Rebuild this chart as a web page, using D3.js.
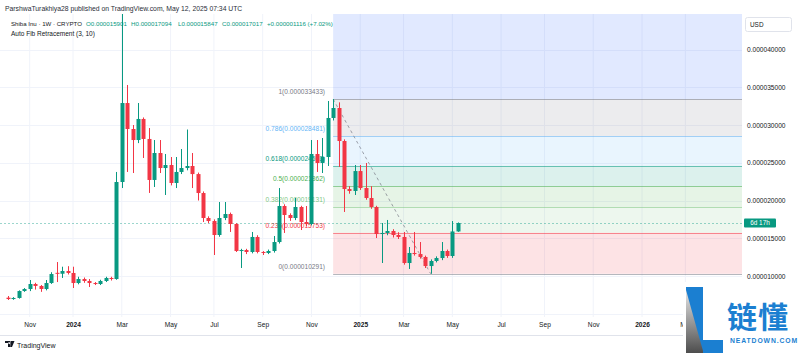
<!DOCTYPE html>
<html><head><meta charset="utf-8">
<script src="https://cdn.jsdelivr.net/npm/d3@7"></script>
<style>html,body{margin:0;padding:0;background:#fff;} svg{display:block;font-family:"Liberation Sans",Arial,sans-serif;}</style>
</head><body><svg id="c" width="800" height="356"></svg>
<script>
// ---- data (prices in units of 1e-6 USD) ----
const weeks = ["2023-10-09","2023-10-16","2023-10-23","2023-10-30","2023-11-06","2023-11-13","2023-11-20","2023-11-27","2023-12-04","2023-12-11","2023-12-18","2023-12-25",
"2024-01-01","2024-01-08","2024-01-15","2024-01-22","2024-01-29","2024-02-05","2024-02-12","2024-02-19","2024-02-26","2024-03-04","2024-03-11","2024-03-18","2024-03-25",
"2024-04-01","2024-04-08","2024-04-15","2024-04-22","2024-04-29","2024-05-06","2024-05-13","2024-05-20","2024-05-27","2024-06-03","2024-06-10","2024-06-17","2024-06-24",
"2024-07-01","2024-07-08","2024-07-15","2024-07-22","2024-07-29","2024-08-05","2024-08-12","2024-08-19","2024-08-26","2024-09-02","2024-09-09","2024-09-16","2024-09-23","2024-09-30",
"2024-10-07","2024-10-14","2024-10-21","2024-10-28","2024-11-04","2024-11-11","2024-11-18","2024-11-25","2024-12-02","2024-12-09","2024-12-16","2024-12-23","2024-12-30",
"2025-01-06","2025-01-13","2025-01-20","2025-01-27","2025-02-03","2025-02-10","2025-02-17","2025-02-24","2025-03-03","2025-03-10","2025-03-17","2025-03-24","2025-03-31",
"2025-04-07","2025-04-14","2025-04-21","2025-04-28","2025-05-05","2025-05-12"];
const openP  = [7.13,6.95,7.09,8.01,8.28,8.94,8.68,8.28,9.07,10.42,10.3,10.66,
10.4,9.07,9.6,9.34,9.07,8.94,9.34,9.74,9.6,22.45,32.91,29.47,28.01,
30.8,28.15,22.72,26.29,24.3,24.7,22.32,23.78,24.3,24.57,23.5,20.99,17.68,
17.28,15.43,17.68,18.21,16.89,13.31,13.44,13.18,15.17,13.18,13.05,13.31,14.5,19.27,
18.08,17.68,19.14,17.15,16.89,26.16,24.97,25.76,30.93,32.25,27.88,21.52,21.26,
23.9,21.65,20.33,19.14,15.56,15.7,15.96,15.43,15.17,11.72,13.05,12.91,12.52,
11.32,11.99,12.38,13.31,12.65,15.901];
const highP  = [7.35,7.2,8.1,8.4,9.47,9.1,8.8,9.47,10.5,11.85,11.23,11.3,
11.23,9.9,9.8,9.6,9.2,9.5,9.9,9.9,23.78,45.67,35.3,30.0,32.91,
31.0,29.6,28.01,28.01,26.16,25.76,25.76,26.82,29.4,26.29,23.7,21.2,17.9,
17.5,19.8,19.8,18.4,17.0,13.6,13.6,15.83,15.4,13.3,13.5,15.3,21.65,19.5,
18.3,20.33,19.3,19.27,28.01,28.01,28.28,33.18,33.433,33.0,28.1,21.9,24.7,
24.7,24.97,21.9,19.3,17.02,17.42,16.2,15.8,15.83,13.84,15.83,14.5,12.7,
12.2,12.6,14.5,13.5,17.28,17.094];
const lowP   = [6.82,6.85,7.0,7.9,8.0,8.2,7.9,8.1,8.95,9.2,9.74,10.2,
8.41,8.9,9.1,8.54,8.8,8.8,9.2,9.4,9.5,21.65,23.78,23.64,27.6,
25.63,21.0,21.79,23.64,20.73,22.0,21.65,23.5,24.0,21.65,20.0,17.15,17.0,
12.78,15.2,17.4,15.83,13.18,11.06,12.9,13.0,13.0,12.78,12.9,13.1,14.3,15.7,
17.3,17.4,16.09,16.6,16.7,23.78,23.64,24.57,30.6,24.44,18.48,20.9,20.73,
21.4,20.1,18.9,15.03,11.72,15.4,15.1,14.9,11.5,10.93,12.7,12.3,11.06,
10.291,11.8,12.1,12.4,12.4,15.847];
const closeP = [6.95,7.09,8.01,8.28,8.94,8.68,8.28,9.07,10.26,10.3,10.66,10.4,
9.07,9.6,9.34,9.07,8.94,9.34,9.74,9.6,22.45,32.91,29.47,28.01,30.8,
28.15,22.72,26.29,24.3,24.7,22.32,23.78,24.3,24.57,23.5,20.99,17.68,17.28,
15.43,17.68,18.21,16.89,13.31,13.44,13.18,15.17,13.18,13.05,13.31,14.5,19.27,18.08,
17.68,19.14,17.15,16.89,26.16,24.97,25.76,30.93,32.25,27.88,21.52,21.26,23.9,
21.65,20.33,19.14,15.56,15.7,15.96,15.43,15.17,11.72,13.05,12.91,12.52,11.32,
11.99,12.38,13.31,12.65,15.9,17.017];
const priceTicks = [5,10,15,20,25,30,35,40,45];
const priceLabelTicks = [10,15,20,25,30,35,40];
const monthTicks = ["2023-11-06","2024-01-01","2024-03-04","2024-05-06","2024-07-01","2024-09-02","2024-11-04","2025-01-06","2025-03-03","2025-05-05","2025-07-07","2025-09-01","2025-11-03","2026-01-05","2026-03-02"];
const monthLabels = ["Nov","2024","Mar","May","Jul","Sep","Nov","2025","Mar","May","Jul","Sep","Nov","2026","Mar"];
const fibLevels = [0,0.236,0.382,0.5,0.618,0.786,1,1.618];
const fibColors = ["#787b86","#f23645","#81c784","#4caf50","#089981","#64b5f6","#787b86","#2962ff"];
const fibHighIdx = 60, fibLowIdx = 78;
const headerOHLC = ["O0.000015901","H0.000017094","L0.000015847","C0.000017017","+0.000001116 (+7.02%)"];

// ---- layout ----
const UP="#089981", DOWN="#f23645";
const paneR=742, paneT=14, paneB=317;
const svg=d3.select("#c");
const x=d3.scaleTime().domain([new Date("2023-10-09"),new Date("2026-01-05")]).range([8,642]);
const y=d3.scaleLinear().domain([10,40]).range([276,49.5]);
const fmt=v=>(v*1e-6).toFixed(9);

const defs=svg.append("defs");
defs.append("clipPath").attr("id","pane").append("rect")
  .attr("x",0).attr("y",paneT).attr("width",paneR).attr("height",paneB-paneT);
const linGrad=defs.append("linearGradient").attr("id","lg").attr("x1",0).attr("y1",0).attr("x2",0).attr("y2",1);
linGrad.append("stop").attr("offset","0%").attr("stop-color","#e6e6e6");
linGrad.append("stop").attr("offset","100%").attr("stop-color","#4d4d4d");

const pane=svg.append("g").attr("clip-path","url(#pane)");
// grid
pane.selectAll(".vg").data(monthTicks).join("line")
  .attr("x1",d=>x(new Date(d))).attr("x2",d=>x(new Date(d))).attr("y1",paneT).attr("y2",paneB)
  .attr("stroke","#f0f3fa").attr("stroke-width",1);
pane.selectAll(".hg").data(priceTicks).join("line")
  .attr("x1",0).attr("x2",paneR).attr("y1",d=>Math.round(y(d))+0.5).attr("y2",d=>Math.round(y(d))+0.5)
  .attr("stroke","#f0f3fa").attr("stroke-width",1);

// fib
const fHi=highP[fibHighIdx], fLo=lowP[fibLowIdx];
const fibX0=x(new Date(weeks[fibHighIdx]));
const fibVal=l=>fLo+l*(fHi-fLo);
const fg=pane.append("g");
for(let i=1;i<fibLevels.length;i++){
  const y1=y(fibVal(fibLevels[i])), y0=y(fibVal(fibLevels[i-1]));
  fg.append("rect").attr("x",fibX0).attr("width",paneR-fibX0)
    .attr("y",y1).attr("height",y0-y1).attr("fill",fibColors[i]).attr("fill-opacity",0.14);
}
fibLevels.forEach((l,i)=>{
  const yy=Math.round(y(fibVal(l)))+0.5;
  fg.append("line").attr("x1",fibX0).attr("x2",paneR).attr("y1",yy).attr("y2",yy)
    .attr("stroke",fibColors[i]).attr("stroke-opacity",0.55);
  if(l<=1){
    fg.append("text").attr("x",325).attr("y",yy-5.5).attr("text-anchor","end")
      .attr("font-size",6.6).attr("fill",fibColors[i])
      .text(l+"("+fmt(Math.round(fibVal(l)*1000)/1000)+")");
  }
});
// trend line (dashed)
fg.append("line").attr("x1",fibX0).attr("y1",y(fHi))
  .attr("x2",x(new Date(weeks[fibLowIdx]))).attr("y2",y(fLo))
  .attr("stroke","#787b86").attr("stroke-opacity",0.7).attr("stroke-dasharray","3,3");

// current price line
const last=closeP[closeP.length-1];
pane.append("line").attr("x1",0).attr("x2",paneR).attr("y1",Math.round(y(last))+0.5).attr("y2",Math.round(y(last))+0.5)
  .attr("stroke",UP).attr("stroke-opacity",0.4).attr("stroke-dasharray","2,2");

// candles
const bars=weeks.map((w,i)=>({d:new Date(w),o:openP[i],h:highP[i],l:lowP[i],c:closeP[i]}));
const cg=pane.append("g");
cg.selectAll(".wk").data(bars).join("line")
  .attr("x1",d=>Math.round(x(d.d))+0.5).attr("x2",d=>Math.round(x(d.d))+0.5)
  .attr("y1",d=>y(d.h)).attr("y2",d=>y(d.l))
  .attr("stroke",d=>d.c>=d.o?UP:DOWN).attr("stroke-width",1);
cg.selectAll(".bd").data(bars).join("rect")
  .attr("x",d=>Math.round(x(d.d))-1.5).attr("width",4)
  .attr("y",d=>y(Math.max(d.o,d.c))).attr("height",d=>Math.max(1,Math.abs(y(d.o)-y(d.c))))
  .attr("fill",d=>d.c>=d.o?UP:DOWN);

// price axis
const ya=svg.append("g").attr("transform",`translate(${paneR},0)`)
  .call(d3.axisRight(y).tickValues(priceLabelTicks).tickSize(0).tickPadding(5).tickFormat(fmt));
ya.select(".domain").remove();
ya.selectAll("text").attr("font-size",6.6).attr("fill","#131722").attr("font-family","Liberation Sans, Arial, sans-serif");

// time axis
const xa=svg.append("g").attr("transform",`translate(0,322)`)
  .call(d3.axisBottom(x).tickValues(monthTicks.map(d=>new Date(d))).tickSize(0).tickPadding(0).tickFormat((d,i)=>monthLabels[i]));
xa.select(".domain").remove();
xa.selectAll("text").attr("font-size",6.6).attr("fill","#131722").attr("font-family","Liberation Sans, Arial, sans-serif")
  .attr("font-weight",(d,i)=>/^\d/.test(monthLabels[i])?"bold":"normal");
svg.append("line").attr("x1",0).attr("x2",800).attr("y1",335.5).attr("y2",335.5).attr("stroke","#e0e3eb");

// USD box
svg.append("rect").attr("x",745.5).attr("y",17.5).attr("width",46).attr("height",14).attr("rx",2)
  .attr("fill","#fff").attr("stroke","#e0e3eb");
svg.append("text").attr("x",750).attr("y",26.5).attr("font-size",6.4).attr("fill","#131722").text("USD");
// countdown box
svg.append("rect").attr("x",744).attr("y",y(last)-4.5).attr("width",32).attr("height",9).attr("rx",1).attr("fill",UP);
svg.append("text").attr("x",760).attr("y",y(last)+2.3).attr("text-anchor","middle").attr("font-size",6.4).attr("fill","#fff").text("6d 17h");

// header
svg.append("text").attr("x",5).attr("y",10.5).attr("font-size",6.8).attr("fill","#2a2e39")
  .text("ParshwaTurakhiya28 published on TradingView.com, May 12, 2025 07:34 UTC");
svg.append("text").attr("x",11).attr("y",26).attr("font-size",6.1).attr("fill","#131722").text("Shiba Inu · 1W · CRYPTO");
const ohlcX=[86,131,178,222,267];
headerOHLC.forEach((s,i)=>svg.append("text").attr("x",ohlcX[i]).attr("y",26).attr("font-size",6.2).attr("fill",UP).text(s));
svg.append("text").attr("x",11).attr("y",35.8).attr("font-size",6.5).attr("fill","#131722").text("Auto Fib Retracement (3, 10)");

// TradingView footer
const tv=svg.append("g").attr("transform","translate(5,341)");
tv.append("path").attr("d","M0,0 H5 V6 H3 V2 H0 Z M5.5,0 H9.5 L7,6 H5.2 Z M4.2,1.2 a0.9,0.9 0 1 0 0.01,0").attr("fill","#131722");
svg.append("text").attr("x",17).attr("y",347.5).attr("font-size",7).attr("fill","#131722").text("TradingView");

// watermark logo
svg.append("rect").attr("x",683).attr("y",282).attr("width",117).attr("height",74).attr("fill","#fff");
svg.append("path").attr("d","M686,287 H703 V340 H723 V353 H686 Z").attr("fill","#1b7fd1");
svg.append("path").attr("d","M686,290 L703,351 V353 H686 Z").attr("fill","url(#lg)");
svg.append("text").attr("x",727).attr("y",328).attr("font-size",30).attr("font-weight","bold")
  .attr("font-family","Noto Sans CJK SC").attr("fill","#1b7fd1").attr("letter-spacing",1).text("链懂");
svg.append("text").attr("x",730).attr("y",343).attr("font-size",6.8).attr("font-weight","bold")
  .attr("fill","#1b7fd1").attr("letter-spacing",0.9).text("NEATDOWN.COM");
</script></body></html>
